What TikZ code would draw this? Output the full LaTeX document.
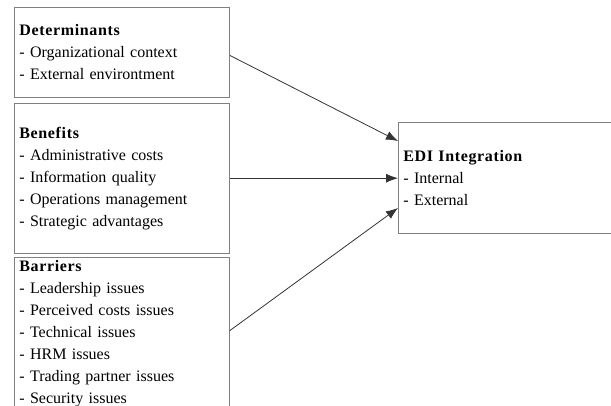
\documentclass[tikz,border=0pt]{standalone}
\usepackage{fontspec}
\setmainfont{Liberation Serif}
\newfontfamily\headfont{Liberation Serif}[UprightFont={* Bold}, LetterSpace=4]
\usetikzlibrary{positioning,arrows.meta,calc}

\newcommand\head[1]{{\headfont #1}}

\begin{document}
\begin{tikzpicture}[
    x=1pt, y=-1pt,
    every node/.style={rectangle, draw=black!50, thick, align=left,
        font=\fontsize{16}{22}\selectfont, inner xsep=5pt, inner ysep=0pt},
    factor/.style={text width=205pt},
    link/.style={draw=black!80, thick, -{Latex[length=12pt,width=9pt]}}
]

\useasboundingbox (0,0) rectangle (611,405);
\clip (0,0) rectangle (611,405);

% left hand factors
\node [factor, minimum height=90pt, anchor=north west] (det) at (14,7)
    {\head{Determinants}\\- Organizational context\\- External environtment};
\node [factor, minimum height=150pt, below=5pt of det.south west, anchor=north west] (ben)
    {\head{Benefits}\\- Administrative costs\\- Information quality\\- Operations management\\- Strategic advantages};
\node [factor, minimum height=153pt, below=3pt of ben.south west, anchor=north west] (bar)
    {\head{Barriers}\\- Leadership issues\\- Perceived costs issues\\- Technical issues\\- HRM issues\\- Trading partner issues\\- Security issues};

% outcome
\node [text width=220pt, minimum height=111pt, anchor=north west] (edi) at (398,122)
    {\head{EDI Integration}\\- Internal\\- External};

\coordinate (edi-a) at ($(edi.north west)+(0,19)$);
\coordinate (edi-c) at ($(edi.north west)+(0,86)$);
\coordinate (bar-out) at ($(bar.north east)+(0,74)$);

\draw [link] ($(det.east)+(0,3)$) -- (edi-a);
\draw [link] (ben.east) -- (ben.east -| edi.west);
\draw [link] (bar-out) -- (edi-c);

\end{tikzpicture}
\end{document}
